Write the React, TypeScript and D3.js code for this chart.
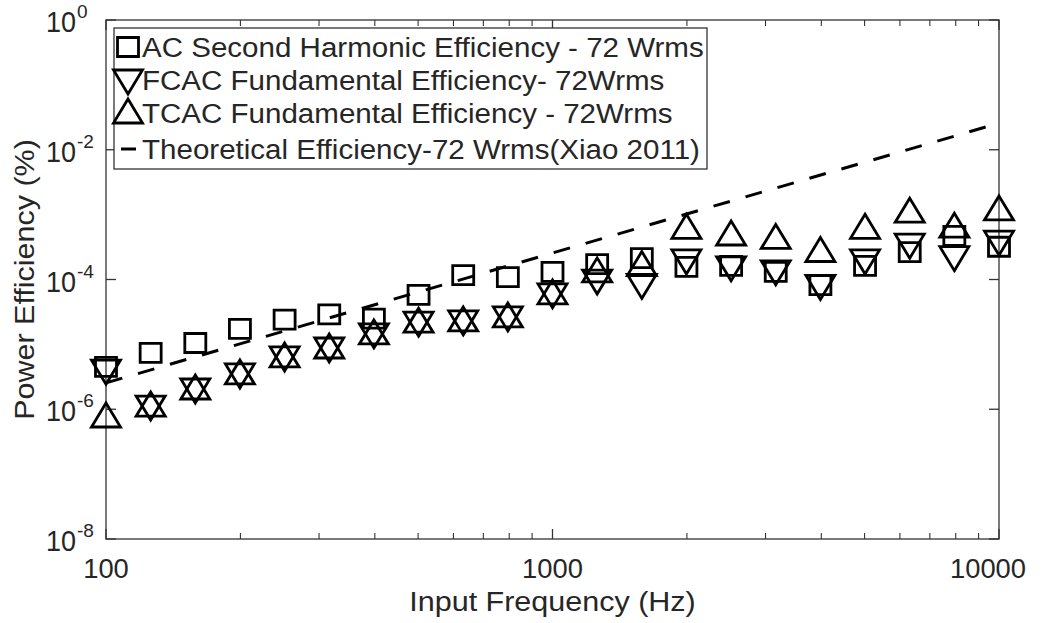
import React from "react";
import * as d3 from "d3";

const freqs = [100, 125.9, 158.5, 199.5, 251.2, 316.2, 398.1, 501.2, 631, 794.3, 1000, 1259, 1585, 1995, 2512, 3162, 3981, 5012, 6310, 7943, 10000];
const acSecond = [4.5e-6, 7.4e-6, 1.05e-5, 1.73e-5, 2.4e-5, 2.9e-5, 2.5e-5, 5.8e-5, 1.17e-4, 1.09e-4, 1.31e-4, 1.73e-4, 2.14e-4, 1.56e-4, 1.62e-4, 1.31e-4, 8.2e-5, 1.62e-4, 2.65e-4, 4.7e-4, 3.2e-4];
const fcacFund = [4.0e-6, 1.12e-6, 2.05e-6, 3.5e-6, 6.4e-6, 8.8e-6, 1.45e-5, 2.2e-5, 2.3e-5, 2.65e-5, 6.0e-5, 9.8e-5, 8.4e-5, 2.0e-4, 1.57e-4, 1.36e-4, 8.1e-5, 2.0e-4, 3.5e-4, 2.25e-4, 3.9e-4];
const tcacFund = [7.6e-7, 1.12e-6, 2.05e-6, 3.5e-6, 6.4e-6, 8.8e-6, 1.45e-5, 2.2e-5, 2.3e-5, 2.65e-5, 6.0e-5, 1.31e-4, 1.64e-4, 6.15e-4, 4.85e-4, 4.3e-4, 2.7e-4, 6.15e-4, 1.09e-3, 6.4e-4, 1.18e-3];
const theoryFreqs = [100, 10000];
const theoryVals = [2.55e-6, 0.0257];

const xTickVals = [100, 1000, 10000];
const xTickLabels = ["100", "1000", "10000"];
const yTickVals = [1e-8, 1e-6, 1e-4, 1e-2, 1];
const yTickExps = ["-8", "-6", "-4", "-2", "0"];
const legendLabels = [
  "AC Second Harmonic Efficiency - 72 Wrms",
  "FCAC Fundamental Efficiency- 72Wrms",
  "TCAC Fundamental Efficiency - 72Wrms",
  "Theoretical Efficiency-72 Wrms(Xiao 2011)",
];
const xTitle = "Input Frequency (Hz)";
const yTitle = "Power Efficiency (%)";

const W = 1044, H = 623;
const L = 106, R = 999, T = 20, B = 539;
const FONT = "'Liberation Sans', Arial, Helvetica, sans-serif";
const TXT = "#262626";
const AX = "#333";
const MW = 2.8;

const x = d3.scaleLog().domain([100, 10000]).range([L, R]);
const y = d3.scaleLog().domain([1e-8, 1]).range([B, T]);

function sq(cx: number, cy: number) {
  const w = 21, h = 19;
  return `M${cx - w / 2},${cy - h / 2}h${w}v${h}h${-w}Z`;
}
function triUp(cx: number, cy: number) {
  const hw = 14.5, a = 14, b = 10;
  return `M${cx},${cy - a}L${cx + hw},${cy + b}L${cx - hw},${cy + b}Z`;
}
function triDown(cx: number, cy: number) {
  const hw = 14.5, a = 14, b = 10;
  return `M${cx},${cy + a}L${cx + hw},${cy - b}L${cx - hw},${cy - b}Z`;
}

function T2({ x0, y0, size, sx = 1, anchor = "start", rot = 0, children }: any) {
  return (
    <text
      transform={`translate(${x0},${y0})${rot ? ` rotate(${rot})` : ""} scale(${sx},1)`}
      fontSize={size}
      fontFamily={FONT}
      fill={TXT}
      textAnchor={anchor}
    >
      {children}
    </text>
  );
}

export default function App() {
  const minorX: number[] = [];
  [100, 1000].forEach((d) => {
    for (let k = 2; k <= 9; k++) minorX.push(d * k);
  });
  const theoryLine = d3
    .line<number>()
    .x((_, i) => x(theoryFreqs[i]))
    .y((v) => y(v))(theoryVals) as string;

  const legRows = [47, 80, 113, 149];
  const legMX = 128;

  return (
    <svg width={W} height={H} style={{ position: "absolute", left: 0, top: 0, background: "#fff" }}>
      <rect x={0} y={0} width={W} height={H} fill="#fff" />
      <rect x={L} y={T} width={R - L} height={B - T} fill="none" stroke={AX} strokeWidth={1.3} />
      {xTickVals.map((v) => (
        <g key={"xt" + v}>
          <line x1={x(v)} x2={x(v)} y1={B} y2={B - 10} stroke={AX} strokeWidth={1.3} />
          <line x1={x(v)} x2={x(v)} y1={T} y2={T + 10} stroke={AX} strokeWidth={1.3} />
        </g>
      ))}
      {minorX.map((v) => (
        <g key={"xm" + v}>
          <line x1={x(v)} x2={x(v)} y1={B} y2={B - 6} stroke={AX} strokeWidth={1.1} />
          <line x1={x(v)} x2={x(v)} y1={T} y2={T + 6} stroke={AX} strokeWidth={1.1} />
        </g>
      ))}
      {yTickVals.map((v) => (
        <g key={"yt" + v}>
          <line x1={L} x2={L + 10} y1={y(v)} y2={y(v)} stroke={AX} strokeWidth={1.3} />
          <line x1={R} x2={R - 10} y1={y(v)} y2={y(v)} stroke={AX} strokeWidth={1.3} />
        </g>
      ))}
      {xTickVals.map((v, i) => (
        <T2 key={"xl" + v} x0={Math.min(x(v), 988)} y0={B + 39} size={28.5} sx={0.96} anchor="middle">
          {xTickLabels[i]}
        </T2>
      ))}
      {yTickVals.map((v, i) => (
        <g key={"yl" + v}>
          <T2 x0={76} y0={y(v) + 12} size={30} sx={0.9} anchor="end">10</T2>
          <T2 x0={77} y0={y(v) - 2} size={19} sx={1.0} anchor="start">{yTickExps[i]}</T2>
        </g>
      ))}
      <T2 x0={(L + R) / 2} y0={611} size={28} sx={1.09} anchor="middle">{xTitle}</T2>
      <T2 x0={34} y0={(T + B) / 2} size={28.5} sx={1.07} anchor="middle" rot={-90}>{yTitle}</T2>

      <path d={theoryLine} fill="none" stroke="#000" strokeWidth={3} strokeDasharray="17 16.3" />

      <g fill="none" stroke="#000" strokeWidth={MW} strokeLinejoin="miter">
        {acSecond.map((v, i) => (
          <path key={"s" + i} d={sq(x(freqs[i]), y(v))} />
        ))}
        {fcacFund.map((v, i) => (
          <path key={"f" + i} d={triDown(x(freqs[i]), y(v))} />
        ))}
        {tcacFund.map((v, i) => (
          <path key={"t" + i} d={triUp(x(freqs[i]), y(v))} />
        ))}
      </g>

      <rect x={114} y={28} width={707 - 114} height={169 - 28} fill="#fff" stroke={AX} strokeWidth={1.3} />
      <g fill="none" stroke="#000" strokeWidth={MW} strokeLinejoin="miter">
        <path d={sq(legMX, legRows[0])} />
        <path d={triDown(legMX, legRows[1])} />
        <path d={triUp(legMX, legRows[2])} />
        <line x1={121} x2={136} y1={legRows[3]} y2={legRows[3]} strokeWidth={3} />
      </g>
      {legendLabels.map((s, i) => (
        <T2 key={"lg" + i} x0={142} y0={legRows[i] + 10} size={28} sx={1.055}>
          {s}
        </T2>
      ))}
    </svg>
  );
}
